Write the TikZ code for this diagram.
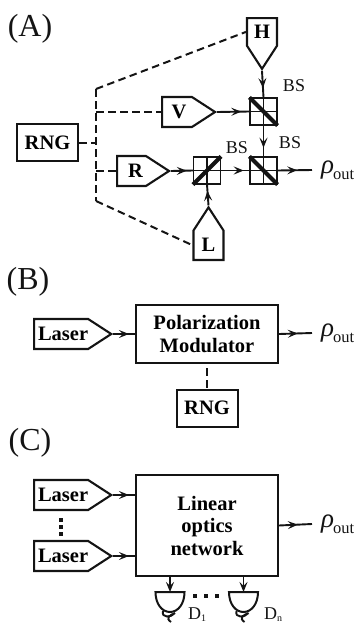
\documentclass[tikz,border=0pt]{standalone}
\usepackage{fontspec}
\setmainfont{Liberation Serif}
\usetikzlibrary{shapes.symbols, arrows.meta, decorations.markings}
\definecolor{mydark}{RGB}{20,20,20}
\newcommand{\rhoout}{{\fontsize{27}{27}\selectfont\itshape ρ}\kern-1pt\raisebox{-6pt}{\fontsize{16.5}{16.5}\selectfont out}}
\tikzset{
  source/.style={signal, draw=mydark, line width=2.1pt, inner sep=0pt, font=\fontsize{20.5}{20.5}\selectfont\bfseries},
  hsource/.style={source, signal to=east, signal pointer angle=66, minimum height=30pt},
  vsource/.style={source, signal pointer angle=66, minimum width=30pt},
  block/.style={rectangle, draw=mydark, line width=2pt, align=center, inner sep=0pt, font=\fontsize{20.5}{22.5}\selectfont\bfseries},
  rng/.style={block, minimum width=61pt, minimum height=37pt},
  cube/.style={rectangle, draw=mydark, line width=1.2pt, minimum size=27pt, inner sep=0pt,
    path picture={\draw[mydark, line width=1.2pt] (path picture bounding box.north) -- (path picture bounding box.south)
      (path picture bounding box.west) -- (path picture bounding box.east);}},
  mirror/.style={mydark, line width=4pt},
  bslabel/.style={font=\fontsize{18}{18}\selectfont, color=mydark, inner sep=0pt},
  partlabel/.style={font=\fontsize{32}{32}\selectfont, color=mydark, inner sep=0pt},
  outlabel/.style={color=mydark, inner ysep=0pt, inner xsep=9pt},
  beam/.style={draw=mydark, line width=1.9pt},
  tipat/.style={beam, postaction={decorate}, decoration={markings, mark=at position #1 with {\arrow{Stealth[length=10pt,width=8pt,inset=4pt]}}}},
  bus/.style={draw=mydark, line width=2pt, dash pattern=on 7.5pt off 4.5pt},
  dotbox/.style={fill=mydark, minimum size=4.5pt, inner sep=0pt}
}
\begin{document}
\begin{tikzpicture}[x=1pt, y=-1pt]
  \useasboundingbox (0,0) rectangle (357,624);

  % part A
  \node[partlabel] (parta) at (30,29) {(A)};
  \node[vsource, signal to=south, minimum height=40pt, anchor=north] (H) at (262,17) {H};
  \node[hsource, minimum width=53pt, anchor=west] (V) at (161,112) {\hspace{4pt}V};
  \node[hsource, minimum width=52pt, anchor=west] (R) at (116,171) {\hspace{8pt}R};
  \node[vsource, signal to=north, minimum height=40pt, anchor=south] (L) at (208.5,261) {L};
  \node[rng] (rnga) at (47.5,142.5) {RNG};
  \node[cube] (bsv) at (263.5,111.5) {};
  \node[cube] (bsr) at (207,170.5) {};
  \node[cube] (bsout) at (263.5,170.5) {};
  \foreach \n/\a/\b in {bsv/north west/south east, bsout/north west/south east, bsr/south west/north east}
    \draw[mirror] (\n.\a) -- (\n.\b);
  \node[bslabel] (bsa) at (294,86) {BS};
  \node[bslabel] (bsb) at (290,143) {BS};
  \node[bslabel] (bsc) at (237,148) {BS};
  \node[outlabel, anchor=west] (outa) at (312,170) {\rhoout};

  \coordinate (top) at (96,89);
  \coordinate (bot) at (96,201);
  \draw[bus] (top) -- (bot);
  \draw[bus] (top) -- (H.west);
  \draw[bus] (top |- V) -- (V.west);
  \draw[bus] (rnga.east) -- (rnga.east -| top);
  \draw[bus] (top |- R) -- (R.west);
  \draw[bus] (bot) -- (L.west);

  \draw[tipat=0.65] (H.south) -- (bsv.north);
  \draw[tipat=0.75] (V.east) -- (bsv.west);
  \draw[tipat=0.72] (bsv.south) -- (bsout.north);
  \draw[tipat=0.72] (R.east) -- (bsr.west);
  \draw[tipat=0.8] (bsr.east) -- (bsout.west);
  \draw[tipat=0.57] (bsout.east) -- (outa.west);
  \draw[tipat=0.7] (L.north) -- (bsr.south);

  % part B
  \node[partlabel] (partb) at (28,282) {(B)};
  \node[hsource, minimum width=77pt, anchor=west] (laserb) at (33,334) {\hspace{4pt}Laser};
  \node[block, minimum width=142pt, minimum height=58pt] (pol) at (207,334) {Polarization\\Modulator};
  \node[rng] (rngb) at (207,408) {RNG};
  \node[outlabel, anchor=west] (outb) at (312,333) {\rhoout};
  \draw[tipat=0.72] (laserb.east) -- (pol.west);
  \draw[tipat=0.57] (pol.east) -- (outb.west);
  \draw[bus] (pol.south) ++(0,4) coordinate (polgap) -- (rngb.north);

  % part C
  \node[partlabel] (partc) at (30,443) {(C)};
  \node[hsource, minimum width=77pt, anchor=west] (laserc) at (33,495) {\hspace{4pt}Laser};
  \node[hsource, minimum width=77pt, anchor=west] (laserd) at (33,556) {\hspace{4pt}Laser};
  \node[block, minimum width=142pt, minimum height=101pt] (net) at (207,525.5) {Linear\\optics\\network};
  \node[outlabel, anchor=west] (outc) at (312,524) {\rhoout};
  \draw[tipat=0.72] (laserc.east) -- (laserc.east -| net.west);
  \draw[tipat=0.72] (laserd.east) -- (laserd.east -| net.west);
  \draw[tipat=0.57] (net.east) -- (outc.west);
  \foreach \y [count=\i] in {520,527,534}
    \node[dotbox] (vdot\i) at (61,\y) {};
  \foreach \x [count=\i] in {195,206,217}
    \node[dotbox] (hdot\i) at (\x,596) {};

  % detectors
  \foreach \n/\x in {da/170, db/243.5} {
    \coordinate (\n) at (\x,592);
    \draw[beam, -{Stealth[length=10pt,width=8pt,inset=4pt]}] (\n |- net.south) -- (\n);
    \draw[mydark, line width=2pt] (\x-14.5,592) -- (\x+14.5,592) .. controls (\x+14.5,604) and (\x+8,612) .. (\x,612)
      .. controls (\x-8,612) and (\x-14.5,604) .. cycle;
    \draw[mydark, line width=1.9pt] (\x-7,611) .. controls (\x-9,618) and (\x+1,618) .. (\x+5,613)
      .. controls (\x,615) and (\x-5,618) .. (\x+1,622);
  }
  \node[bslabel, anchor=base west] (done) at (188,619.5) {D\raisebox{-2pt}{\fontsize{10}{10}\selectfont 1}};
  \node[bslabel, anchor=base west] (dtwo) at (264,619.5) {D\raisebox{-2pt}{\fontsize{10}{10}\selectfont n}};
\end{tikzpicture}
\end{document}
